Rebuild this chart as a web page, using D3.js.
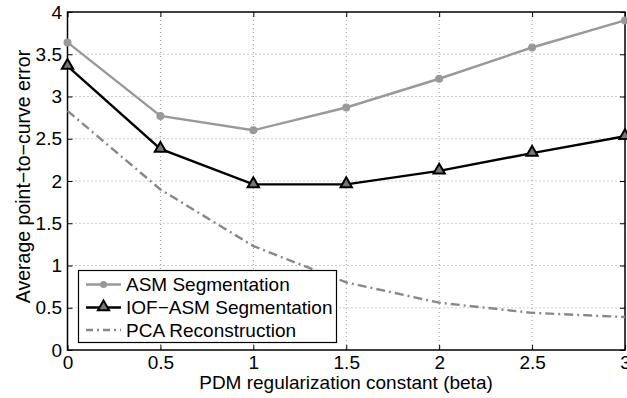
<!DOCTYPE html>
<html>
<head>
<meta charset="utf-8">
<script src="https://cdn.jsdelivr.net/npm/d3@7"></script>
<style>
  html, body { margin: 0; padding: 0; background: #fff; }
  svg { display: block; font-family: "Liberation Sans", Arial, Helvetica, sans-serif; }
</style>
</head>
<body>
<svg id="chart" width="627" height="398"></svg>
<script>
// Regularization constant (beta) values on the x axis
const betas = [0, 0.5, 1, 1.5, 2, 2.5, 3];
// Average point-to-curve error for each method
const asmSeg = [3.64, 2.77, 2.60, 2.87, 3.21, 3.58, 3.90];
const iofSeg = [3.36, 2.38, 1.96, 1.96, 2.12, 2.33, 2.53];
const pcaRec = [2.83, 1.90, 1.23, 0.80, 0.56, 0.44, 0.39];
// Axis tick values
const xTicks = [0, 0.5, 1, 1.5, 2, 2.5, 3];
const yTicks = [0, 0.5, 1, 1.5, 2, 2.5, 3, 3.5, 4];
const seriesNames = ["ASM Segmentation", "IOF\u2212ASM Segmentation", "PCA Reconstruction"];

const svg = d3.select("#chart");
const plotL = 67.5, plotR = 625, plotT = 12, plotB = 350;
const fs = 19;
const x = d3.scaleLinear().domain([0, 3]).range([plotL, plotR]);
const y = d3.scaleLinear().domain([0, 4]).range([plotB, plotT]);

// grid
const grid = svg.append("g");
grid.selectAll(".gx").data(xTicks.slice(1, -1)).enter().append("line")
  .attr("x1", d => x(d)).attr("x2", d => x(d)).attr("y1", plotT).attr("y2", plotB)
  .attr("stroke", "#999").attr("stroke-width", 1).attr("stroke-dasharray", "1,3");
grid.selectAll(".gy").data(yTicks.slice(1, -1)).enter().append("line")
  .attr("y1", d => y(d)).attr("y2", d => y(d)).attr("x1", plotL).attr("x2", plotR)
  .attr("stroke", "#999").attr("stroke-width", 1).attr("stroke-dasharray", "1,3");

// axes with inward ticks on all four sides
const fmt = d => String(d);
svg.append("g").attr("transform", `translate(0,${plotB})`)
  .call(d3.axisBottom(x).tickValues(xTicks).tickFormat(fmt).tickSizeInner(-5).tickSizeOuter(0).tickPadding(6))
  .call(g => { g.select(".domain").remove(); g.selectAll("text").attr("font-size", fs).attr("fill", "#000"); });
svg.append("g").attr("transform", `translate(0,${plotT})`)
  .call(d3.axisTop(x).tickValues(xTicks).tickFormat("").tickSizeInner(-5).tickSizeOuter(0))
  .call(g => g.select(".domain").remove());
svg.append("g").attr("transform", `translate(${plotL},0)`)
  .call(d3.axisLeft(y).tickValues(yTicks).tickFormat(fmt).tickSizeInner(-5).tickSizeOuter(0).tickPadding(5.5))
  .call(g => { g.select(".domain").remove(); g.selectAll("text").attr("font-size", fs).attr("fill", "#000"); });
svg.append("g").attr("transform", `translate(${plotR},0)`)
  .call(d3.axisRight(y).tickValues(yTicks).tickFormat("").tickSizeInner(-5).tickSizeOuter(0))
  .call(g => g.select(".domain").remove());
svg.selectAll(".tick line").attr("stroke", "#000");

svg.append("rect").attr("x", plotL).attr("y", plotT).attr("width", plotR - plotL).attr("height", plotB - plotT)
  .attr("fill", "none").attr("stroke", "#000").attr("stroke-width", 1.5);

const line = d3.line().x((d, i) => x(betas[i])).y(d => y(d));

// PCA reconstruction (dash-dot)
svg.append("path").datum(pcaRec).attr("d", line).attr("fill", "none")
  .attr("stroke", "#888").attr("stroke-width", 2.4).attr("stroke-dasharray", "9,4,2,4");

// ASM segmentation
svg.append("path").datum(asmSeg).attr("d", line).attr("fill", "none")
  .attr("stroke", "#999").attr("stroke-width", 2.4);
svg.selectAll(".asmPt").data(asmSeg).enter().append("circle")
  .attr("cx", (d, i) => x(betas[i])).attr("cy", d => y(d)).attr("r", 4).attr("fill", "#999");

// IOF-ASM segmentation
svg.append("path").datum(iofSeg).attr("d", line).attr("fill", "none")
  .attr("stroke", "#000").attr("stroke-width", 2.4);
const tri = d3.symbol().type(d3.symbolTriangle).size(55);
svg.selectAll(".iofPt").data(iofSeg).enter().append("path")
  .attr("d", tri).attr("transform", (d, i) => `translate(${x(betas[i])},${y(d) - 0.5})`)
  .attr("fill", "#777").attr("stroke", "#000").attr("stroke-width", 2);

// legend
const lg = svg.append("g");
lg.append("rect").attr("x", 78.5).attr("y", 270.5).attr("width", 258).attr("height", 72)
  .attr("fill", "#fff").attr("stroke", "#000").attr("stroke-width", 1.2);
const rowsY = [284.5, 307.5, 330];
const lx1 = 86, lx2 = 121;
lg.append("line").attr("x1", lx1).attr("x2", lx2).attr("y1", rowsY[0]).attr("y2", rowsY[0])
  .attr("stroke", "#999").attr("stroke-width", 2.4);
lg.append("circle").attr("cx", (lx1 + lx2) / 2).attr("cy", rowsY[0]).attr("r", 3.5).attr("fill", "#999");
lg.append("line").attr("x1", lx1).attr("x2", lx2).attr("y1", rowsY[1]).attr("y2", rowsY[1])
  .attr("stroke", "#000").attr("stroke-width", 2.4);
lg.append("path").attr("d", tri).attr("transform", `translate(${(lx1 + lx2) / 2},${rowsY[1] - 0.5})`)
  .attr("fill", "#777").attr("stroke", "#000").attr("stroke-width", 2);
lg.append("line").attr("x1", lx1).attr("x2", lx2).attr("y1", rowsY[2]).attr("y2", rowsY[2])
  .attr("stroke", "#888").attr("stroke-width", 2.4).attr("stroke-dasharray", "7,4,2,4");
lg.selectAll(".lt").data(seriesNames).enter().append("text")
  .attr("x", 126).attr("y", (d, i) => rowsY[i] + 6.5)
  .attr("font-size", fs).attr("fill", "#000").text(d => d);

// axis titles
svg.append("text").attr("x", 346).attr("y", 388.5).attr("text-anchor", "middle")
  .attr("font-size", fs).attr("fill", "#000").text("PDM regularization constant (beta)");
svg.append("text").attr("transform", `translate(29.5,176.5) rotate(-90)`)
  .attr("text-anchor", "middle").attr("font-size", 19.5).attr("fill", "#000")
  .text("Average point\u2212to\u2212curve error");
</script>
</body>
</html>
